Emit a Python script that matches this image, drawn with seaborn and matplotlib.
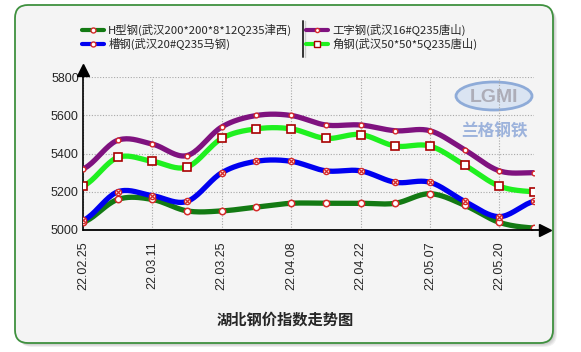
import numpy as np
import pandas as pd
import matplotlib
matplotlib.use("Agg")
import matplotlib.pyplot as plt
import seaborn as sns
from matplotlib.patches import FancyBboxPatch, Ellipse
from matplotlib.lines import Line2D

# ---------------- data ----------------
tick_labels = ["22.02.25", "22.03.11", "22.03.25", "22.04.08", "22.04.22", "22.05.07", "22.05.20"]
tick_positions = [0, 2, 4, 6, 8, 10, 12]
period_index = list(range(14))

h_steel = [5040, 5160, 5160, 5100, 5100, 5120, 5140, 5140, 5140, 5140, 5190, 5130, 5040, 5010]
i_steel = [5320, 5470, 5450, 5390, 5540, 5600, 5600, 5550, 5550, 5520, 5520, 5420, 5310, 5300]
c_steel = [5050, 5200, 5180, 5150, 5300, 5360, 5360, 5310, 5310, 5250, 5250, 5150, 5070, 5150]
a_steel = [5230, 5380, 5360, 5330, 5480, 5530, 5530, 5480, 5500, 5440, 5440, 5340, 5230, 5200]

series_names = ["H型钢(武汉200*200*8*12Q235津西)", "工字钢(武汉16#Q235唐山)",
                "槽钢(武汉20#Q235马钢)", "角钢(武汉50*50*5Q235唐山)"]
series_values = [h_steel, i_steel, c_steel, a_steel]
colors = ["#137a13", "#7f127f", "#0000f0", "#1ff01f"]
title = "湖北钢价指数走势图"

sns.set_style("white")
plt.rcParams["font.family"] = ["Liberation Sans", "Noto Sans CJK SC", "DejaVu Sans"]
CJK = ["Noto Sans CJK SC", "DejaVu Sans"]


def smooth_curve(y, n=20):
    """Cardinal (Catmull-Rom) rendering of the line between the real points."""
    y = np.asarray(y, float)
    k = len(y)
    m = np.empty(k)
    m[1:-1] = (y[2:] - y[:-2]) / 2
    m[0] = (y[1] - y[0]) / 2
    m[-1] = (y[-1] - y[-2]) / 2
    xs, ys = [], []
    for i in range(k - 1):
        t = np.linspace(0, 1, n, endpoint=(i == k - 2))
        h00 = 2 * t**3 - 3 * t**2 + 1
        h10 = t**3 - 2 * t**2 + t
        h01 = -2 * t**3 + 3 * t**2
        h11 = t**3 - t**2
        ys.append(h00 * y[i] + h10 * m[i] + h01 * y[i + 1] + h11 * m[i + 1])
        xs.append(i + t)
    return np.concatenate(xs), np.concatenate(ys)


W, H = 581, 352
fig = plt.figure(figsize=(W / 100, H / 100), dpi=100, facecolor="white")

# ---------------- background panel ----------------
bg = fig.add_axes([0, 0, 1, 1], zorder=-5)
bg.set_xlim(0, W)
bg.set_ylim(H, 0)
bg.axis("off")
for k in range(1, 6):
    bg.add_patch(FancyBboxPatch((15 + k * 0.8, 5 + k * 0.8), 538, 338,
                                boxstyle="round,pad=0,rounding_size=13",
                                fc="black", ec="none", alpha=0.05))
bg.add_patch(FancyBboxPatch((15, 5), 538, 338, boxstyle="round,pad=0,rounding_size=13",
                            fc="#f4f4f4", ec="#3f913f", lw=1.3))
# legend separator
bg.plot([303, 303], [21, 57], color="#333333", lw=1.4)
bg.plot([304.5, 304.5], [21, 57], color="#cccccc", lw=1.0)
# watermark logo
bg.add_patch(Ellipse((494, 96), 76, 28, fc="#dae4f2", ec="#8eabd8", lw=2.0))
bg.text(494, 97, "LGMI", ha="center", va="center", fontsize=14, color="#adadb8",
        fontweight="bold", family=["Liberation Sans"])
bg.text(494, 131, "兰格钢铁", ha="center", va="center", fontsize=12, color="#9db3dc",
        family=CJK, style="italic", fontweight="bold")

# ---------------- main axes ----------------
left, right = 83 / W, 534 / W
top, bottom = 1 - 77.3 / H, 1 - 230 / H
ax = fig.add_axes([left, bottom, right - left, top - bottom])
ax.patch.set_alpha(0)

rows = []
for name, vals in zip(series_names, series_values):
    xs, ys = smooth_curve(vals)
    rows.append(pd.DataFrame({"x": xs, "price": ys, "series": name}))
df_line = pd.concat(rows, ignore_index=True)

sns.lineplot(data=df_line, x="x", y="price", hue="series", palette=dict(zip(series_names, colors)),
             linewidth=3.8, legend=False, sort=False, estimator=None, ax=ax, zorder=3)

edge = "#d42a2a"
ax.plot(period_index, h_steel, ls="none", marker="o", ms=4.6, mfc="white", mec=edge, mew=1.1, zorder=5)
ax.plot(period_index, i_steel, ls="none", marker="o", ms=3.4, mfc="white", mec=edge, mew=1.0, zorder=5)
ax.plot(period_index, c_steel, ls="none", marker="o", ms=4.4, mfc="white", mec=edge, mew=1.0, zorder=5)
ax.plot(period_index, c_steel, ls="none", marker="x", ms=2.8, mec=edge, mew=0.9, zorder=6)
ax.plot(period_index, a_steel, ls="none", marker="s", ms=5.2, mfc="white", mec="#a80000", mew=1.2, zorder=5)

ax.set_xlim(0, 13)
ax.set_ylim(5000, 5800)
ax.set_yticks([5000, 5200, 5400, 5600, 5800])
ax.set_xticks(tick_positions)
ax.set_xticklabels(tick_labels, rotation=90, fontsize=9)
ax.set_yticklabels([str(v) for v in [5000, 5200, 5400, 5600, 5800]], fontsize=9)
ax.tick_params(axis="y", length=2.5, pad=0.5, width=1, color="black")
ax.tick_params(axis="x", length=3, pad=5, width=1, color="black")
ax.set_xlabel("")
ax.set_ylabel("")
ax.grid(True, color="#a8a8a8", ls=(0, (1, 1.5)), lw=0.8)
ax.set_axisbelow(True)
for s in ["top", "right", "bottom"]:
    ax.spines[s].set_visible(False)
ax.spines["left"].set_color("black")
ax.spines["left"].set_linewidth(1.2)

# axis arrows
ax.plot([0, 1.012], [0, 0], transform=ax.transAxes, color="black", lw=1.3, clip_on=False, zorder=7)
ax.plot([1.025], [0], transform=ax.transAxes, marker=">", ms=8, color="black", clip_on=False, zorder=7)
ax.plot([0, 0], [1.0, 1.03], transform=ax.transAxes, color="black", lw=1.2, clip_on=False)
ax.plot([0], [1.05], transform=ax.transAxes, marker="^", ms=8, color="black", clip_on=False)

# ---------------- legend ----------------
def handle(color, marker, ms, mec=edge):
    return Line2D([], [], color=color, lw=3, marker=marker, ms=ms, mfc="white", mec=mec, mew=1.0)

h_handles = [handle(colors[0], "o", 3.6), handle(colors[2], "o", 3.6)]
i_handles = [handle(colors[1], "o", 3), handle(colors[3], "s", 4.2, "#a80000")]
common = dict(loc="upper left", frameon=False, borderpad=0, borderaxespad=0, handlelength=1.9,
              handletextpad=0.4, labelspacing=0.2, prop={"family": CJK, "size": 8.2})
fig.legend(h_handles, [series_names[0], series_names[2]], bbox_to_anchor=(82 / W, 1 - 24 / H), **common)
fig.legend(i_handles, [series_names[1], series_names[3]], bbox_to_anchor=(306 / W, 1 - 24 / H), **common)

fig.text(285 / W, 1 - 320 / H, title, ha="center", va="center", fontsize=11,
         fontweight="bold", family=CJK)

fig.savefig("out.png", dpi=100, facecolor="white")
